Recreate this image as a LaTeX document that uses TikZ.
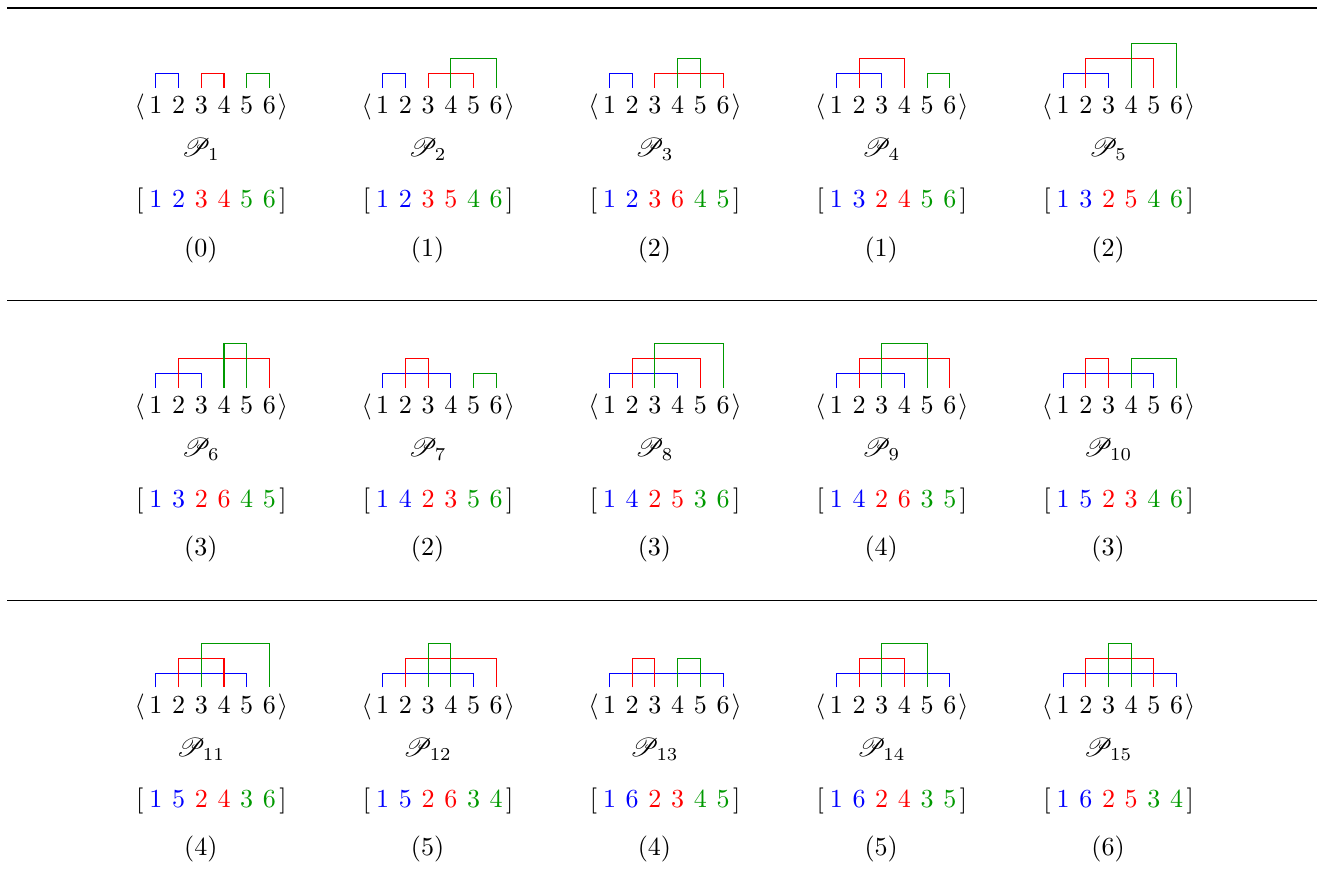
\documentclass[tikz,border=0pt]{standalone}
\usepackage{amsmath}
\usepackage{mathrsfs}
\usepackage{tikz}
\definecolor{PMBlue}{RGB}{0,0,255}
\definecolor{PMRed}{RGB}{255,0,0}
\definecolor{PMGreen}{RGB}{0,153,0}

\begin{document}
\begin{tikzpicture}[digit/.style={inner sep=0pt,anchor=base}]
  \useasboundingbox (0,0) rectangle (17.78,12.055);
  \draw[line width=.8pt] (0.095,11.943) -- (17.78,11.943);
  \draw[line width=.5pt] (0.095,7.999) -- (17.78,7.999);
  \draw[line width=.5pt] (0.095,3.951) -- (17.78,3.951);
  \foreach \n/\col/\row/\bx/\by/\rx/\ry/\gx/\gy/\hb/\hr/\hg/\ncross in {
      1/1/1/1/2/3/4/5/6/1/1/1/0,
      2/2/1/1/2/3/5/4/6/1/1/2/1,
      3/3/1/1/2/3/6/4/5/1/1/2/2,
      4/4/1/1/3/2/4/5/6/1/2/1/1,
      5/5/1/1/3/2/5/4/6/1/2/3/2,
      6/1/2/1/3/2/6/4/5/1/2/3/3,
      7/2/2/1/4/2/3/5/6/1/2/1/2,
      8/3/2/1/4/2/5/3/6/1/2/3/3,
      9/4/2/1/4/2/6/3/5/1/2/3/4,
      10/5/2/1/5/2/3/4/6/1/2/2/3,
      11/1/3/1/5/2/4/3/6/1/2/3/4,
      12/2/3/1/5/2/6/3/4/1/2/3/5,
      13/3/3/1/6/2/3/4/5/1/2/2/4,
      14/4/3/1/6/2/4/3/5/1/2/3/5,
      15/5/3/1/6/2/5/3/4/1/2/3/6}{
    \begin{scope}[shift={({2.871+3.062*(\col-1)},{10.517-4.047*(\row-1)})}]
      \node[digit] (open\n) at (-0.984,0) {$\langle$};
      \node[digit] (close\n) at (0.95,0) {$\rangle$};
      \foreach \i in {1,...,6}
        \node[digit] (m\n-\i) at ({(\i-3.5)*0.3065},0) {$\i$};
      \draw[PMBlue] ([yshift=3.4pt]m\n-\bx.north) -- ++(0,{0.19+0.204*(\hb-1)}) -| ([yshift=3.4pt]m\n-\by.north);
      \draw[PMRed] ([yshift=3.4pt]m\n-\rx.north) -- ++(0,{0.19+0.204*(\hr-1)}) -| ([yshift=3.4pt]m\n-\ry.north);
      \draw[PMGreen] ([yshift=3.4pt]m\n-\gx.north) -- ++(0,{0.19+0.204*(\hg-1)}) -| ([yshift=3.4pt]m\n-\gy.north);
      \node[digit] (name\n) at (-0.16,-0.58) {$\mathscr{P}_{\n}$};
      \node[digit] (lbrack\n) at (-0.984,-1.27) {$[$};
      \node[digit] (rbrack\n) at (0.95,-1.27) {$]$};
      \foreach \v/\clr [count=\i] in {\bx/PMBlue,\by/PMBlue,\rx/PMRed,\ry/PMRed,\gx/PMGreen,\gy/PMGreen}
        \node[digit,text=\clr] (w\n-\i) at ({(\i-3.5)*0.3065},-1.27) {$\v$};
      \node[digit] (cross\n) at (-0.16,-1.92) {$(\ncross)$};
    \end{scope}
  }
\end{tikzpicture}
\end{document}
